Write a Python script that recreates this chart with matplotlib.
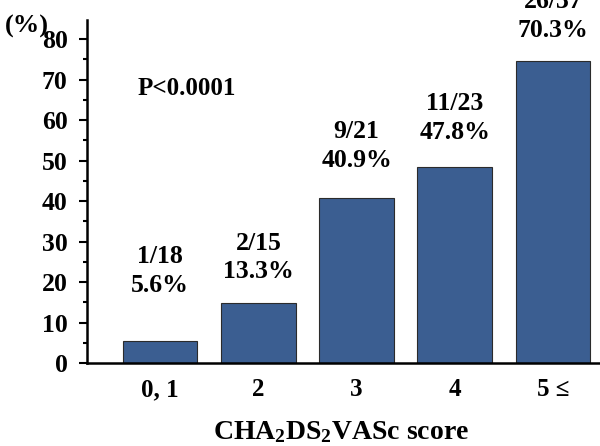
import numpy as np
import matplotlib.pyplot as plt
from matplotlib.ticker import MultipleLocator

plt.rcParams['font.family'] = ['Liberation Serif', 'DejaVu Serif']
plt.rcParams['font.weight'] = 'bold'
plt.rcParams['mathtext.default'] = 'regular'

# data
categories = ['0, 1', '2', '3', '4', '5 \u2264']
heights = [5.5, 14.8, 40.8, 48.5, 74.5]
counts = ['1/18', '2/15', '9/21', '11/23', '26/37']
percents = ['5.6%', '13.3%', '40.9%', '47.8%', '70.3%']

# where the two-line labels sit (centre, in % units)
label_y = [22.7, 26.0, 53.6, 60.5, 85.7]

fig = plt.figure(figsize=(6, 4.46), dpi=100)
ax = fig.add_axes([0.145, 0.186, 0.855, 0.769])

x = np.arange(len(categories))
ax.bar(x, heights, width=0.76, color='#3b5e91', edgecolor='#2b2b2b', linewidth=0.8, zorder=2)

for i in range(len(x)):
    ax.text(x[i], label_y[i], counts[i] + '\n' + percents[i], ha='center', va='center',
            fontsize=18.5, fontweight='bold', linespacing=1.3, clip_on=False)

ax.text(-0.23, 67.9, 'P<0.0001', ha='left', va='center', fontsize=18, fontweight='bold')

ax.set_xlim(-0.745, 4.48)
ax.set_ylim(0, 84.7)
ax.set_xticks(x)
ax.set_xticklabels(categories, fontsize=18, fontweight='bold')
ax.tick_params(axis='x', length=0, pad=11)
ax.yaxis.set_major_locator(MultipleLocator(10))
ax.yaxis.set_minor_locator(MultipleLocator(5))
ax.tick_params(axis='y', which='major', length=6, width=1.5, labelsize=18.5, pad=8)
ax.tick_params(axis='y', which='minor', length=3, width=1.5)
for lab in ax.get_yticklabels():
    lab.set_fontweight('bold')

for s in ['top', 'right']:
    ax.spines[s].set_visible(False)
ax.spines['left'].set_linewidth(1.8)
ax.spines['bottom'].set_linewidth(1.8)

fig.text(0.008, 0.94, '(%)', fontsize=19, fontweight='bold', ha='left', va='center')
fig.text(0.568, 0.03, r'CHA$_2$DS$_2$VASc score', fontsize=20, fontweight='bold',
         ha='center', va='center')

fig.savefig('out.png', dpi=100)
